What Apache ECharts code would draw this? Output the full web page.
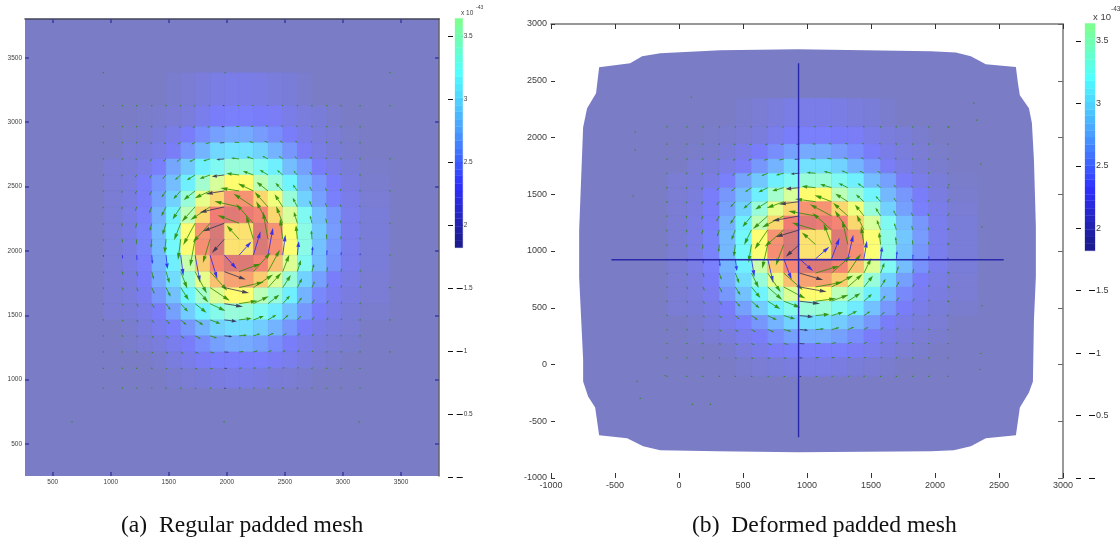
<!DOCTYPE html>
<html><head><meta charset="utf-8">
<style>html,body{margin:0;padding:0;background:#fff}#c{width:1120px;height:543px}</style>
<script src="https://cdn.jsdelivr.net/npm/echarts@6/dist/echarts.min.js"></script>
</head><body><div id="c"></div>
<script>
// Mesh node positions (data units)
const nodesXA=[936,1100,1223,1353,1476,1602,1726,1855,1978,2105,2228,2354,2481,2607,2733,2860,2983,3147,3405];
const nodesYA=[3385,3129,2966,2842,2715,2590,2466,2342,2215,2091,1967,1839,1715,1590,1464,1340,1215,1088,933];
const nodesXB=[-94,62,187,315,440,566,693,818,941,1067,1192,1319,1445,1575,1698,1826,1951,2100,2335];
const nodesYB=[2346,2094,1942,1810,1685,1558,1435,1309,1186,1057,931,806,683,558,431,308,185,59,-105];
// Cell level, percent of colour scale, top row first
const cellLevels=[
[0,0,0,0,2,3,5,7,8,8,7,5,4,2,0,0,0,0],
[0,0,1,2,3,5,9,12,13,13,12,11,8,5,4,2,0,0],
[0,1,2,4,8,12,16,20,22,22,19,16,12,8,5,3,1,0],
[0,3,4,7,11,18,24,31,33,33,30,24,18,11,7,4,2,0],
[3,4,7,13,21,28,36,40,44,44,40,36,26,20,12,8,4,1],
[3,5,12,18,26,36,46,55,63,63,50,44,37,25,18,12,6,2],
[3,6,12,20,30,44,58,70,83,83,70,60,44,30,20,13,8,3],
[3,7,13,23,36,50,70,88,93,90,86,70,55,40,26,18,9,4],
[3,7,14,25,38,62,83,96,68,68,94,83,62,42,28,19,9,4],
[3,7,14,25,38,62,84,96,68,68,95,84,62,42,27,18,9,4],
[3,7,13,24,36,52,72,86,94,94,86,74,56,40,26,17,9,4],
[3,6,12,22,32,44,58,74,80,80,72,56,44,30,20,12,7,3],
[3,5,10,18,27,37,46,56,63,62,50,44,36,24,15,10,6,3],
[3,4,7,12,20,29,36,41,44,44,40,35,27,18,12,8,4,2],
[0,2,5,9,13,18,24,30,32,32,29,24,18,12,8,5,3,0],
[0,1,3,5,9,12,16,20,22,22,20,16,12,8,5,3,2,0],
[0,0,0,2,5,8,11,13,13,13,13,11,9,6,3,2,0,0],
[0,0,0,0,2,3,4,6,7,7,6,4,3,2,0,0,0,0]];
// Vector components at the nodes (data units)
const arrowU=[
[-3,-3,-5,-7,-9,-11,-14,-16,-17,-17,-16,-14,-11,-9,-7,-5,-3,-3],
[-3,-5,-7,-9,-14,-17,-23,-26,-27,-27,-26,-23,-17,-14,-9,-7,-5,-3],
[-4,-6,-8,-13,-20,-26,-33,-39,-42,-42,-39,-33,-26,-20,-13,-8,-6,-4],
[-4,-7,-11,-18,-25,-35,-50,-61,-69,-69,-61,-50,-35,-25,-18,-11,-7,-4],
[-5,-8,-14,-21,-32,-50,-72,-90,-108,-108,-90,-72,-50,-32,-21,-14,-8,-5],
[-5,-8,-14,-22,-39,-63,-98,-133,-161,-161,-133,-98,-63,-39,-22,-14,-8,-5],
[-4,-8,-13,-23,-40,-70,-115,-170,-213,-213,-170,-115,-70,-40,-23,-13,-8,-4],
[-3,-5,-9,-17,-30,-57,-102,-149,-185,-185,-149,-102,-57,-30,-17,-9,-5,-3],
[-1,-2,-3,-6,-12,-23,-43,-62,-107,-107,-62,-43,-23,-12,-6,-3,-2,-1],
[1,2,3,6,12,23,43,62,107,107,62,43,23,12,6,3,2,1],
[3,5,9,17,30,57,102,149,185,185,149,102,57,30,17,9,5,3],
[4,8,13,23,40,70,115,170,213,213,170,115,70,40,23,13,8,4],
[5,8,14,22,39,63,98,133,161,161,133,98,63,39,22,14,8,5],
[5,8,14,21,32,50,72,90,108,108,90,72,50,32,21,14,8,5],
[4,7,11,18,25,35,50,61,69,69,61,50,35,25,18,11,7,4],
[4,6,8,13,20,26,33,39,42,42,39,33,26,20,13,8,6,4],
[3,5,7,9,14,17,23,26,27,27,26,23,17,14,9,7,5,3],
[3,3,5,7,9,11,14,16,17,17,16,14,11,9,7,5,3,3]];
const arrowV=[
[-3,-3,-4,-4,-5,-5,-4,-3,-1,1,3,4,5,5,4,4,3,3],
[-3,-5,-6,-7,-8,-8,-8,-5,-2,2,5,8,8,8,7,6,5,3],
[-5,-7,-8,-11,-14,-14,-13,-9,-3,3,9,13,14,14,11,8,7,5],
[-7,-9,-13,-18,-21,-22,-23,-17,-6,6,17,23,22,21,18,13,9,7],
[-9,-14,-20,-25,-32,-39,-40,-30,-12,12,30,40,39,32,25,20,14,9],
[-11,-17,-26,-35,-50,-63,-70,-57,-23,23,57,70,63,50,35,26,17,11],
[-14,-23,-33,-50,-72,-98,-115,-102,-43,43,102,115,98,72,50,33,23,14],
[-16,-26,-39,-61,-90,-133,-170,-149,-62,62,149,170,133,90,61,39,26,16],
[-17,-27,-42,-69,-108,-161,-213,-185,-107,107,185,213,161,108,69,42,27,17],
[-17,-27,-42,-69,-108,-161,-213,-185,-107,107,185,213,161,108,69,42,27,17],
[-16,-26,-39,-61,-90,-133,-170,-149,-62,62,149,170,133,90,61,39,26,16],
[-14,-23,-33,-50,-72,-98,-115,-102,-43,43,102,115,98,72,50,33,23,14],
[-11,-17,-26,-35,-50,-63,-70,-57,-23,23,57,70,63,50,35,26,17,11],
[-9,-14,-20,-25,-32,-39,-40,-30,-12,12,30,40,39,32,25,20,14,9],
[-7,-9,-13,-18,-21,-22,-23,-17,-6,6,17,23,22,21,18,13,9,7],
[-5,-7,-8,-11,-14,-14,-13,-9,-3,3,9,13,14,14,11,8,7,5],
[-3,-5,-6,-7,-8,-8,-8,-5,-2,2,5,8,8,8,7,6,5,3],
[-3,-3,-4,-4,-5,-5,-4,-3,-1,1,3,4,5,5,4,4,3,3]];
const blueRow=9, darkCol=8;
// Stray tiny vectors outside the node table
const strayA=[[936,3385],[1985,3385],[3405,3385],[3405,3129],[3405,2715],[3405,2466],[3405,2215],[3405,1967],[3405,1715],[3405,1464],[3405,1215],[666,671],[1976,671],[3138,671]];
const strayB=[[2303,2302],[2327,2153],[2108,2091],[2358,1766],[2108,1582],[2108,1450],[2108,1327],[2108,1195],[2366,1213],[2108,1063],[2108,808],[2108,677],[2108,554],[2366,518],[2358,97],[2350,-44],[-342,2047],[-342,1889],[-358,1485],[96,2355],[-327,-149],[-303,-299],[-108,-97],[104,-351],[245,-351]];
// Deformed mesh outline (data units)
const meshOutline=[[-624,2619],[-382,2654],[-288,2715],[-147,2742],[323,2768],[926,2777],[1967,2759],[2163,2748],[2280,2715],[2397,2645],[2632,2621],[2648,2478],[2663,2373],[2734,2258],[2757,2127],[2773,1801],[2788,1213],[2788,773],[2773,395],[2765,-149],[2734,-246],[2663,-378],[2632,-624],[2397,-650],[2280,-721],[2147,-756],[1967,-764],[926,-773],[299,-764],[-147,-756],[-280,-721],[-405,-650],[-624,-624],[-655,-378],[-710,-281],[-749,-149],[-749,44],[-780,764],[-780,1186],[-765,1626],[-749,2091],[-718,2258],[-648,2390]];
const crossH=[[-528,923],[2537,923]];
const crossV=[[934,2654],[934,-641]];
// Colour bar band edges, x 10^-43
const barEdges=[1.82,1.88,1.93,1.99,2.05,2.10,2.16,2.22,2.27,2.33,2.39,2.44,2.50,2.56,2.61,2.67,2.73,2.78,2.84,2.90,2.95,3.01,3.07,3.12,3.18,3.24,3.29,3.35,3.41,3.46,3.52,3.58,3.64];
// Tick labels
const ticksAX=[500,1000,1500,2000,2500,3000,3500];
const ticksAY=[500,1000,1500,2000,2500,3000,3500];
const ticksBX=[-1000,-500,0,500,1000,1500,2000,2500,3000];
const ticksBY=[-1000,-500,0,500,1000,1500,2000,2500,3000];
const barTicks=[0,0.5,1,1.5,2,2.5,3,3.5];
const barLabels=[0.5,1,1.5,2,2.5,3,3.5];
const captions=['(a)  Regular padded mesh','(b)  Deformed padded mesh'];

const cellData=(xs,ys)=>{const o=[];cellLevels.forEach((row,r)=>row.forEach((v,c)=>{if(v>0)o.push([xs[c],ys[r],xs[c+1],ys[r+1],v]);}));return o;};
const arrowData=(xs,ys,stray)=>{const o=[];arrowU.forEach((row,r)=>row.forEach((u,c)=>{o.push([xs[c],ys[r+1],u,arrowV[r][c],r===blueRow?1:(c===darkCol?2:0)]);}));stray.forEach(p=>o.push([p[0],p[1],0,0,0]));return o;};
const barData=barEdges.slice(0,-1).map((e,i)=>[0,e,1,barEdges[i+1],e]);

const renderCell=(p,api)=>{const a=api.coord([api.value(0),api.value(1)]),b=api.coord([api.value(2),api.value(3)]);
 return {type:'rect',shape:{x:a[0],y:a[1],width:b[0]-a[0],height:b[1]-a[1]},style:{fill:api.visual('color'),stroke:api.visual('color'),lineWidth:0.3}};};
const renderBar=(p,api)=>{const a=api.coord([api.value(0),api.value(3)]),b=api.coord([api.value(2),api.value(1)]);
 return {type:'rect',shape:{x:a[0],y:a[1],width:b[0]-a[0],height:b[1]-a[1]},style:{fill:api.visual('color'),stroke:api.visual('color'),lineWidth:0.3}};};
const arrowColors=['#2a8c00','#2626f0','#33334d'];
const renderArrow=(p,api)=>{const x=api.value(0),y=api.value(1);const a=api.coord([x,y]),b=api.coord([x+api.value(2),y+api.value(3)]);
 const col=arrowColors[api.value(4)];const dx=b[0]-a[0],dy=b[1]-a[1],L=Math.hypot(dx,dy);
 if(L<1.2)return {type:'rect',shape:{x:a[0]-.6,y:a[1]-.6,width:1.2,height:1.2},style:{fill:col,opacity:.85}};
 const h=Math.min(7,Math.max(1.8,L*.4)),w=Math.min(1.9,Math.max(.7,L*.14));const ux=dx/L,uy=dy/L;
 const bx=b[0]-ux*h,by=b[1]-uy*h;
 return {type:'group',children:[
  {type:'line',shape:{x1:a[0],y1:a[1],x2:bx,y2:by},style:{stroke:col,lineWidth:1,opacity:.8}},
  {type:'polygon',shape:{points:[[b[0],b[1]],[bx-uy*w,by+ux*w],[bx+uy*w,by-ux*w]]},style:{fill:col,opacity:.9}}]};};
const renderOutline=(p,api)=>{if(p.dataIndex!==0)return null;return {type:'polygon',shape:{points:meshOutline.map(q=>api.coord(q))},style:{fill:'#7a7dc6'}};};

const txt='#3c3c3c';
const fmt=v=>String(v);
const baseAxis=o=>Object.assign({type:'value',splitLine:{show:false},axisLine:{show:false,onZero:false},axisTick:{show:false},axisLabel:{show:false}},o);
const plotX=(grid,min,max,ticks,pos,opts)=>baseAxis({gridIndex:grid,min,max,position:pos,
 axisTick:{show:true,inside:true,length:opts.tl,customValues:ticks,lineStyle:{color:opts.tc,width:opts.tw}},
 axisLabel:opts.lab?{show:true,customValues:ticks,formatter:fmt,fontSize:opts.fs,color:txt,margin:opts.m,fontFamily:'Liberation Sans',hideOverlap:false,showMinLabel:true,showMaxLabel:true}:{show:false},
 axisLine:opts.ln?{show:true,onZero:false,lineStyle:{color:opts.ln,width:opts.lw||1}}:{show:false,onZero:false}});
const barAxis=(grid,max,pos,opts)=>baseAxis({gridIndex:grid,min:0,max,position:pos,offset:opts.off||0,
 axisTick:{show:true,inside:!!opts.inside,length:opts.tl,customValues:barTicks,lineStyle:{color:'#111',width:1}},
 axisLabel:opts.lab?{show:true,customValues:barLabels,formatter:fmt,fontSize:opts.fs,color:txt,margin:opts.m,fontFamily:'Liberation Sans',inside:false}:{show:false}});

const option={animation:false,backgroundColor:'#fff',
 grid:[
  {left:25,top:19,width:414,height:457,show:true,backgroundColor:'#7a7dc6',borderWidth:0},
  {left:551,top:24,width:512,height:454,show:false},
  {left:455,top:19,width:7.7,height:458,show:false},
  {left:1085,top:24,width:10,height:454,show:false}],
 xAxis:[
  plotX(0,261,3827,ticksAX,'bottom',{tl:4,tc:'#3a3c9a',tw:1.5,lab:true,fs:6.5,m:3}),
  plotX(0,261,3827,ticksAX,'top',{tl:4,tc:'#3a3c9a',tw:1.5,ln:'#44465a',lw:1.5}),
  plotX(1,-1000,3000,ticksBX,'bottom',{tl:5,tc:'#333',tw:1,lab:true,fs:9,m:3}),
  plotX(1,-1000,3000,ticksBX,'top',{tl:5,tc:'#333',tw:1,ln:'#777',lw:1.5}),
  baseAxis({gridIndex:2,min:0,max:1,show:false}),
  baseAxis({gridIndex:3,min:0,max:1,show:false})],
 yAxis:[
  plotX(0,251,3802,ticksAY,'left',{tl:4,tc:'#3a3c9a',tw:1.5,lab:true,fs:6.5,m:3}),
  plotX(0,251,3802,ticksAY,'right',{tl:4,tc:'#3a3c9a',tw:1.5,ln:'#666',lw:1.5}),
  plotX(1,-1000,3000,ticksBY,'left',{tl:4,tc:'#333',tw:1,lab:true,fs:9,m:4}),
  plotX(1,-1000,3000,ticksBY,'right',{tl:5,tc:'#666',tw:1,ln:'#777',lw:1.5}),
  barAxis(2,3.635,'left',{off:2,tl:5}),
  barAxis(2,3.635,'right',{inside:true,tl:6,lab:true,fs:6.5,m:1}),
  barAxis(3,3.635,'left',{off:4,tl:5}),
  barAxis(3,3.635,'right',{inside:true,tl:6,lab:true,fs:9,m:1})],
 visualMap:[
  {show:false,type:'continuous',min:0,max:100,dimension:4,seriesIndex:[0,3],inRange:{color:['#7a7dc6','#7a7dfb','#74b8ff','#70f8ff','#bcffb8','#ffff70','#f8bc70','#f47c74','#c87878']}},
  {show:false,type:'continuous',min:1.85,max:5.38,dimension:4,seriesIndex:[7,8],inRange:{color:['#1c1c90','#3030ff','#4aa0ff','#50ffff','#80ff88','#ffff00','#ff7f00','#ff0000','#7f0000']}}],
 series:[
  {type:'custom',xAxisIndex:0,yAxisIndex:0,data:cellData(nodesXA,nodesYA),encode:{x:[0,2],y:[1,3]},renderItem:renderCell,silent:true,z:2},
  {type:'custom',xAxisIndex:0,yAxisIndex:0,data:arrowData(nodesXA,nodesYA,strayA),encode:{x:0,y:1},renderItem:renderArrow,silent:true,z:3},
  {type:'custom',xAxisIndex:2,yAxisIndex:2,data:meshOutline,encode:{x:0,y:1},renderItem:renderOutline,silent:true,z:1},
  {type:'custom',xAxisIndex:2,yAxisIndex:2,data:cellData(nodesXB,nodesYB),encode:{x:[0,2],y:[1,3]},renderItem:renderCell,silent:true,z:2},
  {type:'custom',xAxisIndex:2,yAxisIndex:2,data:arrowData(nodesXB,nodesYB,strayB),encode:{x:0,y:1},renderItem:renderArrow,silent:true,z:3},
  {type:'line',xAxisIndex:2,yAxisIndex:2,data:crossH,symbol:'none',lineStyle:{color:'#2828a8',width:1.4},silent:true,z:4},
  {type:'line',xAxisIndex:2,yAxisIndex:2,data:crossV,symbol:'none',lineStyle:{color:'#2828a8',width:1.4},silent:true,z:4},
  {type:'custom',xAxisIndex:4,yAxisIndex:4,data:barData,encode:{x:[0,2],y:[1,3]},renderItem:renderBar,silent:true,z:2},
  {type:'custom',xAxisIndex:5,yAxisIndex:6,data:barData,encode:{x:[0,2],y:[1,3]},renderItem:renderBar,silent:true,z:2}],
 graphic:[
  {type:'text',left:461,top:10,style:{text:'x 10',font:'6.5px "Liberation Sans"',fill:txt}},
  {type:'text',left:476,top:5,style:{text:'-43',font:'5px "Liberation Sans"',fill:txt}},
  {type:'text',left:1093,top:12,style:{text:'x 10',font:'9.5px "Liberation Sans"',fill:txt}},
  {type:'text',left:1111,top:6,style:{text:'-43',font:'6.5px "Liberation Sans"',fill:txt}},
  {type:'text',left:121,top:514,style:{text:captions[0],font:'23.6px "Liberation Serif"',fill:'#111'}},
  {type:'text',left:692,top:514,style:{text:captions[1],font:'23.6px "Liberation Serif"',fill:'#111'}}]
};
echarts.init(document.getElementById('c'),null,{renderer:'canvas'}).setOption(option);
</script></body></html>
